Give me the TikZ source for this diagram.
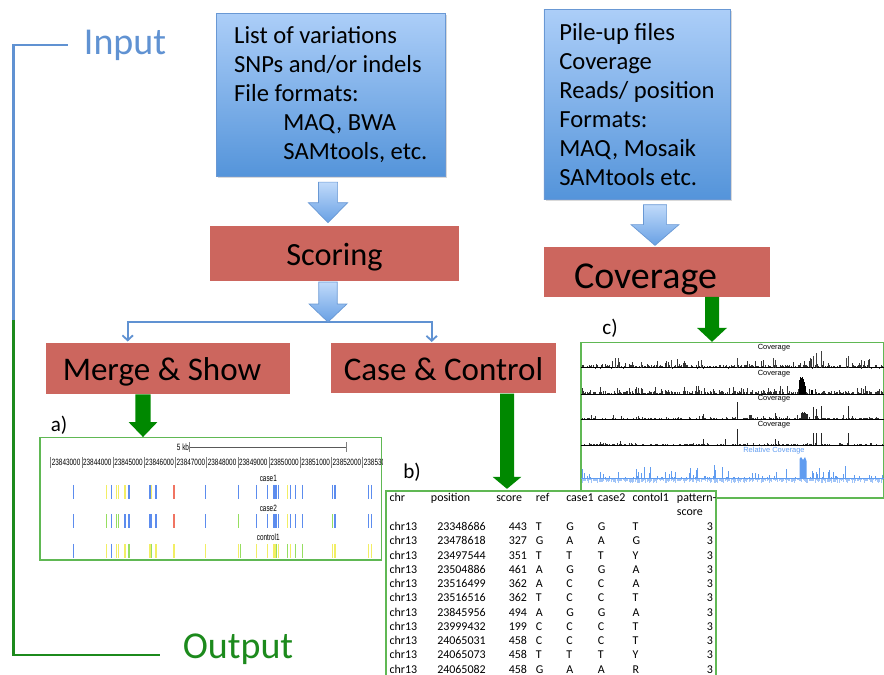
\documentclass[tikz,border=0pt]{standalone}
\usepackage{fontspec}
\setmainfont{Carlito}
\newfontfamily\trackfont{Liberation Sans}
\usepackage{graphicx}
\usetikzlibrary{calc,positioning,arrows.meta,shadows}

\definecolor{boxred}{RGB}{204,102,94}
\definecolor{boxtop}{RGB}{172,206,248}
\definecolor{boxbot}{RGB}{84,148,218}
\definecolor{boxline}{RGB}{105,152,212}
\definecolor{arrowtop}{RGB}{192,218,250}
\definecolor{arrowbot}{RGB}{104,160,228}
\definecolor{flowblue}{RGB}{96,146,210}
\definecolor{arrowgreen}{RGB}{0,136,0}
\definecolor{panelgreen}{RGB}{96,184,84}
\definecolor{outgreen}{RGB}{28,138,28}
\definecolor{snpblue}{RGB}{92,140,238}
\definecolor{snpyellow}{RGB}{242,238,100}
\definecolor{snpgreen}{RGB}{150,222,96}
\definecolor{snpred}{RGB}{240,116,98}
\definecolor{relblue}{RGB}{96,156,240}
\definecolor{rellight}{RGB}{160,196,248}

% downward block arrow: style, start, tip, shaft half width, head half width, head length
\newcommand{\blockarrow}[6]{%
  \path[#1] let \p1=(#2), \p2=(#3) in
    (\x1-#4,\y1) -- (\x1+#4,\y1) -- (\x1+#4,\y2+#6) -- (\x1+#5,\y2+#6)
    -- (\x1,\y2) -- (\x1-#5,\y2+#6) -- (\x1-#4,\y2+#6) -- cycle;}

\begin{document}
\begin{tikzpicture}[x=0.025cm,y=-0.025cm,
  bluebox/.style={draw=boxline,line width=0.6pt,top color=boxtop,bottom color=boxbot,
    drop shadow={opacity=0.3,shadow xshift=1.2pt,shadow yshift=-1.2pt},
    align=left,inner sep=0pt,font=\fontsize{17.5}{20.6}\selectfont},
  redbox/.style={fill=boxred,inner sep=0pt,font=\fontsize{23.5}{27}\selectfont,
    text height=17.8pt,text depth=0pt},
  bluearrow/.style={draw=boxline,line width=0.5pt,top color=arrowtop,bottom color=arrowbot},
  greenarrow/.style={fill=arrowgreen},
  branchline/.style={draw=flowblue,line width=1.3pt,-{Straight Barb[length=3.5pt,width=7.5pt]}},
  panel/.style={draw=panelgreen,line width=0.9pt,inner sep=0pt},
  paneltag/.style={font=\fontsize{15}{18}\selectfont,inner sep=0pt},
  sidetag/.style={font=\fontsize{27}{30}\selectfont,inner sep=0pt},
  genelab/.style={font=\trackfont\fontsize{6.5}{7}\selectfont,inner sep=0pt},
  snpbar/.style={line width=0.9pt},
  tracklab/.style={font=\trackfont\fontsize{5.3}{6}\selectfont,inner sep=0pt},
  covbar/.style={line width=0.35pt},
  tabcell/.style={font=\fontsize{8.5}{10}\selectfont,inner sep=0pt,text height=6pt,text depth=1.5pt}]

\useasboundingbox (0,0) rectangle (884,675);

% input / output bracket
\node[sidetag,text=flowblue] (input) at (125,45) {Input};
\node[sidetag,text=outgreen] (output) at (238,649) {Output};
\coordinate (turn) at (13.3,320);
\draw[flowblue,line width=1.9pt] ($(input.west)+(-16,0)$) -| (turn);
\draw[outgreen,line width=1.9pt] (turn) |- ($(output.west)+(-23,6)$);

% input files
\node[bluebox,minimum width=5.71cm,minimum height=4.085cm] (vars) at (330.8,95) {%
  List of variations\\ SNPs and/or indels\\ File formats:\\
  \hspace*{35pt}MAQ, BWA\\ \hspace*{35pt}SAMtools, etc.};
\node[bluebox,minimum width=4.65cm,minimum height=4.75cm] (pile) at (637,104.3) {%
  Pile-up files\\ Coverage\\ Reads/ position\\ Formats:\\ MAQ, Mosaik\\ SAMtools etc.};

% processing steps
\node[redbox,font=\fontsize{23}{27}\selectfont,minimum width=6.225cm,minimum height=1.37cm] (score) at (334.5,253.4) {Scoring};
\node[redbox,font=\fontsize{27}{30}\selectfont,text height=24.4pt,minimum width=5.65cm,minimum height=1.25cm] (cover) at (657,271.7) {Coverage\hspace*{0.575cm}\mbox{}};
\node[redbox,minimum width=6.1cm,minimum height=1.28cm] (merge) at (168,368.4) {Merge \& Show\hspace*{0.3cm}\mbox{}};
\node[redbox,minimum width=5.625cm,minimum height=1.25cm] (case) at (443.5,368.3) {Case \& Control};

\coordinate (split) at ($(score.south)+(-6.5,41)$);
\blockarrow{bluearrow}{$(vars.south)+(-2.8,5)$}{$(score.north)+(0,-3)$}{0.24cm}{0.49cm}{0.5cm}
\blockarrow{bluearrow}{$(pile.south)+(18,5)$}{$(cover.north)+(0,-1)$}{0.29cm}{0.6cm}{0.52cm}
\draw[branchline] (split) -| ($(merge.north west)+(82,-1)$);
\draw[branchline] (split) -| ($(case.north west)+(101,-1)$);
\blockarrow{bluearrow}{$(score.south)+(-6.5,1)$}{split}{0.23cm}{0.47cm}{0.45cm}

% a) merged view
\node[panel,minimum width=8.5425cm,minimum height=3.0575cm] (panela) at (210.85,498.85) {};
\node[paneltag] (taga) at (59,425) {a)};
\begin{scope}
  \clip (panela.north west) rectangle (panela.south east);
  \node[genelab] (kb) at (183,447.3) {\scalebox{0.7}[1]{5 kb}};
  \coordinate (kbend) at (346.7,447.3);
  \draw[gray!70!black,line width=0.5pt] (kb.east) -- (kbend);
  \draw[gray,line width=0.5pt] ($(kb.east)+(0,-5)$) -- ++(0,10) (kbend) ++(0,-5) -- ++(0,10);
  \foreach \k in {0,...,10} {
    \pgfmathtruncatemacro\kk{43+\k}
    \draw[gray,line width=0.4pt] (50.7+31.2*\k,457) -- ++(0,11);
    \node[genelab,anchor=west] (tick\k) at (51.6+31.2*\k,462.5) {\scalebox{0.7}[1]{238\kk000}};
  }
  \node[genelab] (case1lab) at (268.3,478.3) {\scalebox{0.7}[1]{case1}};
  \node[genelab] (case2lab) at (268.3,508.3) {\scalebox{0.7}[1]{case2}};
  \node[genelab] (ctrllab) at (268.3,537.3) {\scalebox{0.7}[1]{control1}};
  \foreach \x/\ca/\cb/\cc in {73.3/snpblue/snpblue/snpblue, 106.7/snpyellow/snpgreen/snpyellow,
      111.7/snpblue/snpblue/snpblue, 116.7/snpyellow/snpgreen/snpyellow, 118.3/snpyellow/snpgreen/snpyellow,
      125/snpyellow/snpblue/snpyellow, 129/snpblue/snpblue/snpgreen, 150/snpblue/snpblue/snpyellow,
      151.7/snpyellow/snpblue/snpgreen, 156/snpblue/snpblue/snpyellow, 174/snpred/snpred/snpyellow,
      205.7/snpblue/snpblue/snpyellow, 238.3/snpblue/snpgreen/snpyellow, 240.3/white/white/snpgreen,
      256.7/snpblue/snpblue/snpyellow, 267.3/snpblue/snpblue/snpyellow, 273.3/snpblue/snpblue/snpyellow,
      275/snpblue/snpblue/snpyellow, 276.7/snpblue/snpblue/snpgreen, 278.3/snpblue/snpblue/snpyellow,
      287.7/snpyellow/snpyellow/snpgreen, 290.7/snpblue/snpblue/snpyellow, 295.7/snpblue/snpblue/snpgreen,
      302.7/snpblue/snpblue/snpgreen, 332.3/snpblue/snpgreen/snpyellow, 335/snpblue/snpblue/snpyellow,
      368.3/snpblue/snpblue/snpyellow, 371.7/snpblue/snpblue/snpyellow} {
    \draw[snpbar,\ca] (\x,485) -- (\x,499);
    \draw[snpbar,\cb] (\x,514.5) -- (\x,528);
    \draw[snpbar,\cc] (\x,544) -- (\x,558);
  }
\end{scope}

% c) coverage tracks
\node[panel,minimum width=7.575cm,minimum height=3.8875cm] (panelc) at (732.5,420.25) {};
\node[paneltag] (tagc) at (610,328) {c)};
\begin{scope}
  \clip (panelc.north west) rectangle (panelc.south east);
  \pgfmathsetseed{17}
  \foreach \base/\amp/\n in {367.7/3/1, 394/3/2, 419.3/1.6/3, 445/0.8/4} {
    \foreach \i in {0,...,250} {
      \pgfmathsetmacro\h{\amp*rnd+(rnd>0.8)*\amp*2*rnd}
      \draw[covbar,black!80] (582+1.2*\i,\base) -- ++(0,-\h);
    }
    \draw[black,line width=0.6pt] (581,\base) -- (884,\base);
    \node[tracklab] (covlab\n) at (774,\base-20.3) {Coverage};
  }
  \foreach \x/\h in {615/10,618.3/10,641.7/6,671.7/8,701.7/8,737.3/10,773.3/10,775/8,810/10,
      813.3/12,816.7/15,821.7/17,846.7/10,848.3/12,861.7/8,868.3/8}
    \draw[covbar,black!75] (\x,367.7) -- ++(0,-\h);
  \foreach \x/\h in {799.5/14,800.5/17,801.5/16,802.5/17,803.5/15,804.5/12,805.5/8,812/4}
    \draw[line width=1.1pt,black] (\x,394) -- ++(0,-\h);
  \foreach \x/\h in {621.7/3,703.3/5,737.3/17,775/6,801/6,802/7,803/6,804/7,805/6,806/5,807/5,
      813.3/12,816.7/10,821.7/13,848.3/13}
    \draw[covbar,black!85] (\x,419.3) -- ++(0,-\h);
  \foreach \x/\h in {600/3,620/4,703.3/6,725/6,737.3/16,775/6,778/4,813.3/12,816.7/12,821.7/12,
      848.3/12,870/2}
    \draw[covbar,black!85] (\x,445) -- ++(0,-\h);
  \foreach \i in {0,...,250} {
    \pgfmathsetmacro\u{(rnd>0.6)*14*rnd*rnd}
    \pgfmathsetmacro\d{1.5+3.5*rnd}
    \draw[covbar,rellight] (582+1.2*\i,478.3) -- ++(0,\d);
    \draw[covbar,relblue] (582+1.2*\i,478.3) -- ++(0,-\u);
  }
  \fill[relblue] (799.5,478.3) -- (799.5,459) -- (801,457) -- (803,460) -- (805,457) -- (806.5,461) -- (806.5,478.3) -- cycle;
  \draw[relblue,line width=0.6pt] (581,478.3) -- (884,478.3);
  \node[tracklab,text=relblue] (rellab) at (774,450.7) {Relative Coverage};
\end{scope}

% b) case/control table
\node[panel,fill=white,minimum width=8.25cm,minimum height=4.625cm] (panelb) at (551,583.5) {};
\node[paneltag] (tagb) at (412,472) {b)};
\begin{scope}
  \clip (panelb.north west) rectangle (panelb.south east);
  \node[tabcell,anchor=west] (hchr) at (389.3,498.3) {chr};
  \node[tabcell,anchor=west] (hpos) at (430.7,498.3) {position};
  \node[tabcell,anchor=west] (hscore) at (496,498.3) {score};
  \node[tabcell,anchor=west] (href) at (535.7,498.3) {ref};
  \node[tabcell,anchor=west] (hcasea) at (566,498.3) {case1};
  \node[tabcell,anchor=west] (hcaseb) at (597.7,498.3) {case2};
  \node[tabcell,anchor=west] (hctrl) at (632.3,498.3) {contol1};
  \node[tabcell,anchor=west] (hpat) at (676.7,498.3) {pattern-};
  \node[tabcell,anchor=west] (hpatb) at (676.7,512.7) {score};
  \foreach \pos/\sc/\rf/\ca/\cb/\ct [count=\k] in {23348686/443/T/G/G/T, 23478618/327/G/A/A/G,
      23497544/351/T/T/T/Y, 23504886/461/A/G/G/A, 23516499/362/A/C/C/A, 23516516/362/T/C/C/T,
      23845956/494/A/G/G/A, 23999432/199/C/C/C/T, 24065031/458/C/C/C/T, 24065073/458/T/T/T/Y,
      24065082/458/G/A/A/R} {
    \pgfmathsetmacro\ry{527.3+14.27*(\k-1)}
    \node[tabcell,anchor=west] (chr\k) at (389.3,\ry) {chr13};
    \node[tabcell,anchor=east] (pos\k) at (486,\ry) {\pos};
    \node[tabcell,anchor=east] (sc\k) at (527.3,\ry) {\sc};
    \node[tabcell,anchor=west] (ref\k) at (535.7,\ry) {\rf};
    \node[tabcell,anchor=west] (ca\k) at (566,\ry) {\ca};
    \node[tabcell,anchor=west] (cb\k) at (597.7,\ry) {\cb};
    \node[tabcell,anchor=west] (ct\k) at (632.3,\ry) {\ct};
    \node[tabcell,anchor=east] (pat\k) at (713.3,\ry) {3};
  }
\end{scope}

% results
\blockarrow{greenarrow}{$(merge.south)+(-25,0)$}{panela.north}{0.19cm}{0.36cm}{0.375cm}
\blockarrow{greenarrow}{$(case.south)+(63.5,0)$}{$(panelb.north)+(0,-1.5)$}{0.175cm}{0.36cm}{0.3cm}
\blockarrow{greenarrow}{$(cover.south)+(55,0)$}{panelc.north}{0.175cm}{0.375cm}{0.35cm}

\end{tikzpicture}
\end{document}
